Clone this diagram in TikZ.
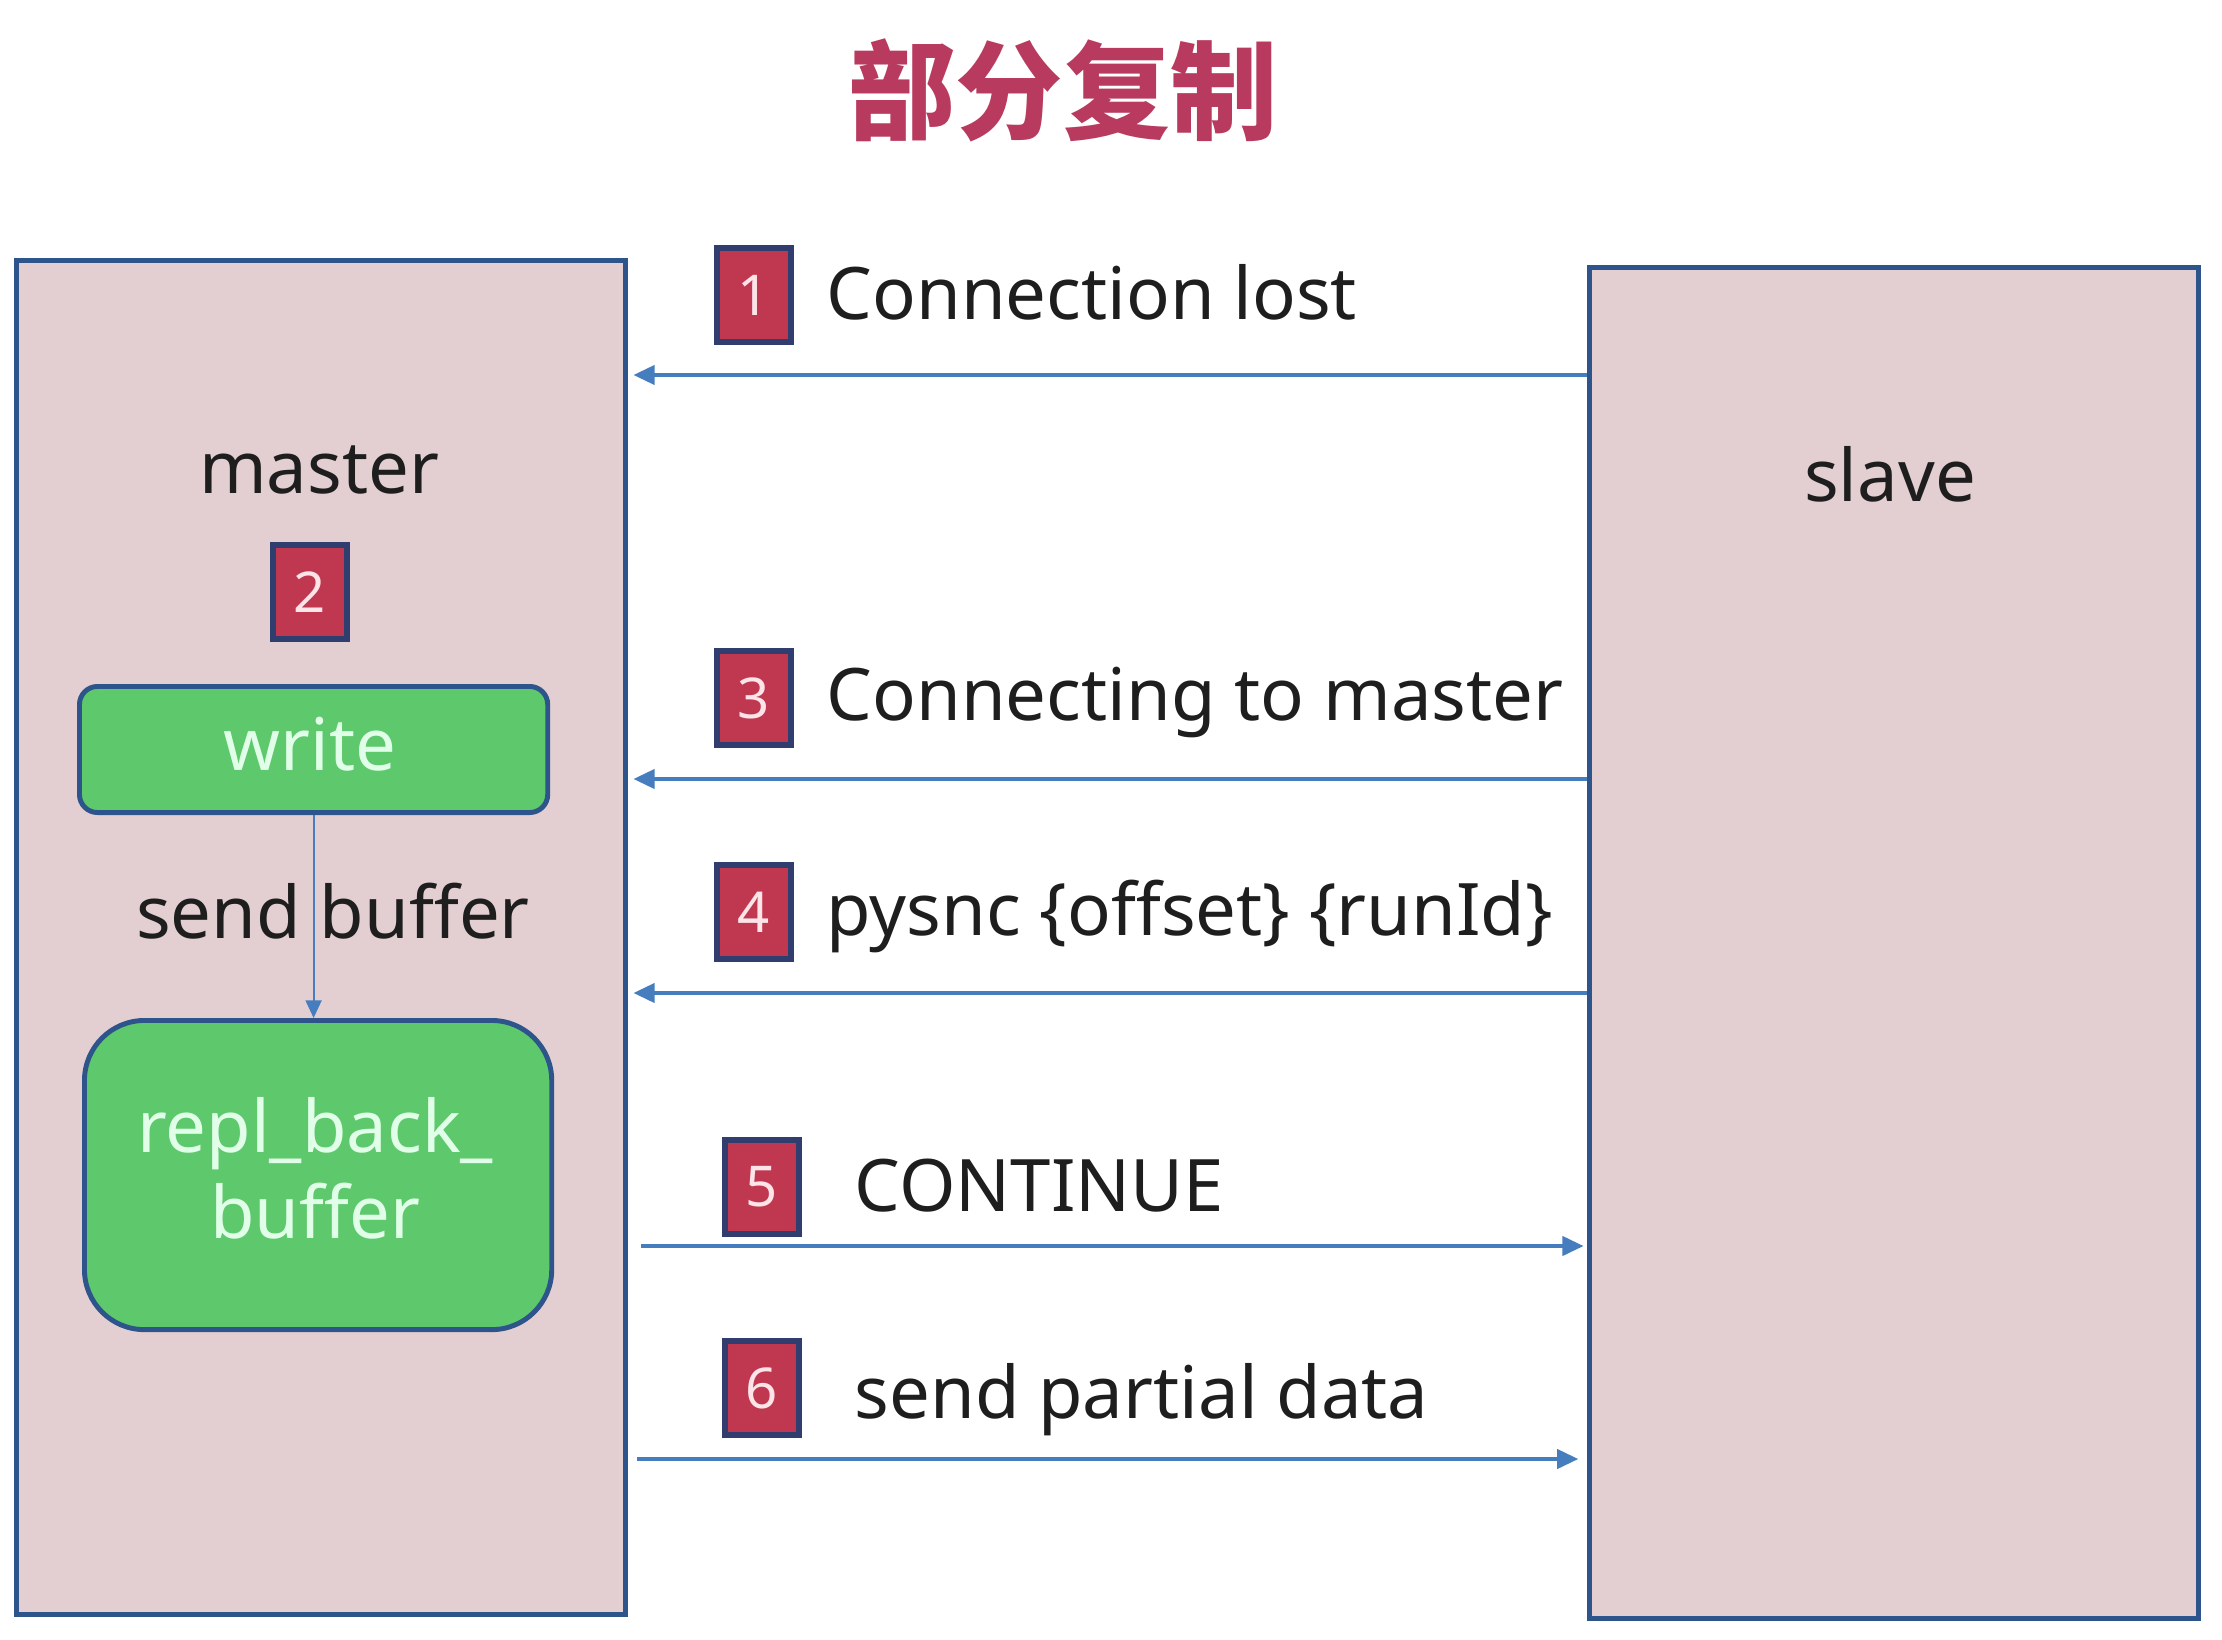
\documentclass[tikz,border=0pt]{standalone}
\usepackage{fontspec}
\setmainfont{Noto Sans}
\newfontfamily\cjk{Noto Sans CJK SC}
\usetikzlibrary{arrows.meta}
\definecolor{boxfill}{RGB}{227,207,209}
\definecolor{boxborder}{RGB}{46,84,140}
\definecolor{msgcolor}{RGB}{70,125,190}
\definecolor{greenfill}{RGB}{94,200,108}
\definecolor{greentext}{RGB}{225,255,232}
\definecolor{badgefill}{RGB}{192,56,80}
\definecolor{badgeborder}{RGB}{47,62,110}
\definecolor{badgetext}{RGB}{252,228,232}
\definecolor{titlecolor}{RGB}{184,58,94}
\definecolor{txt}{RGB}{30,30,30}
\newcommand\lblfont{\fontsize{20.6pt}{24.5pt}\selectfont}
\newcommand\badgefont{\fontsize{16pt}{18pt}\selectfont}
\begin{document}
\begin{tikzpicture}[x=0.01cm,y=-0.01cm,
  hostbox/.style={draw=boxborder, line width=1.4pt, fill=boxfill, inner sep=0, anchor=north west},
  badge/.style={draw=badgeborder, fill=badgefill, line width=1.7pt, minimum width=0.74cm, minimum height=0.94cm, inner sep=0, text=badgetext, font=\badgefont},
  lbl/.style={anchor=base west, font=\lblfont, text=txt, inner sep=0},
  msg/.style={draw=msgcolor, line width=0.9pt, -{Triangle[length=6pt,width=5.5pt]}},
  greenbox/.style={draw=boxborder, fill=greenfill, line width=1.4pt, text=greentext, font=\lblfont, inner sep=0, anchor=north west, align=center},
  inner/.style={draw=msgcolor, line width=0.6pt, -{Triangle[length=5pt,width=4.5pt]}}
]
\useasboundingbox (0,0) rectangle (2222,1640);
\fill[white] (0,0) rectangle (2222,1640);

\node[font=\cjk\bfseries\fontsize{30.5pt}{34pt}\selectfont, text=titlecolor] (title) at (1063,90) {部分复制};

\node[hostbox, minimum width=6.09cm, minimum height=13.53cm] (master) at (14,258) {};
\node[hostbox, minimum width=6.09cm, minimum height=13.50cm] (slave) at (1587,265) {};

\node[anchor=base, font=\lblfont, text=txt, inner sep=0] (mlabel) at (319,494) {master};
\node[anchor=base, font=\lblfont, text=txt, inner sep=0] (slabel) at (1890,502) {slave};

\node[badge] (b2) at (310,592) {2};
\node[greenbox, minimum width=4.68cm, minimum height=1.26cm, rounded corners=0.18cm] (write) at (77,684) {};
\node[anchor=base, font=\lblfont, text=greentext, inner sep=0] (wlabel) at (310,770) {write};
\node[greenbox, minimum width=4.67cm, minimum height=3.09cm, rounded corners=0.6cm] (repl) at (82,1018) {};
\node[anchor=base, font=\lblfont, text=greentext, inner sep=0, align=center] (rlabel) at (315,1152) {repl\_back\_};
\node[anchor=base, font=\lblfont, text=greentext, inner sep=0] (rlabel2) at (315,1238) {buffer};
\node[anchor=base, font=\lblfont, text=txt, inner sep=0] (sbuf) at (333,938) {send buffer};
\draw[inner] (write.south) -- (write.south |- repl.north);

\node[badge] (b1) at (754,295) {1};
\node[lbl] (t1) at (826,320) {Connection lost};
\node[badge] (b3) at (754,698) {3};
\node[lbl] (t3) at (826,720) {Connecting to master};
\node[badge] (b4) at (754,912) {4};
\node[lbl] (t4) at (826,935) {pysnc \{offset\} \{runId\}};
\node[badge] (b5) at (762,1187) {5};
\node[lbl] (t5) at (854,1211) {CONTINUE};
\node[badge] (b6) at (762,1388) {6};
\node[lbl] (t6) at (854,1418) {send partial data};

\coordinate (y1) at (0,375);
\coordinate (y3) at (0,779);
\coordinate (y4) at (0,993);
\coordinate (y5) at (0,1246);
\coordinate (y6) at (0,1459);
\draw[msg, shorten >=1.5pt] (slave.west |- y1) -- (master.east |- y1);
\draw[msg, shorten >=1.5pt] (slave.west |- y3) -- (master.east |- y3);
\draw[msg, shorten >=1.5pt] (slave.west |- y4) -- (master.east |- y4);
\draw[msg, shorten <=3.5pt, shorten >=1pt] (master.east |- y5) -- (slave.west |- y5);
\draw[msg, shorten <=2.5pt, shorten >=2.5pt] (master.east |- y6) -- (slave.west |- y6);
\end{tikzpicture}
\end{document}
